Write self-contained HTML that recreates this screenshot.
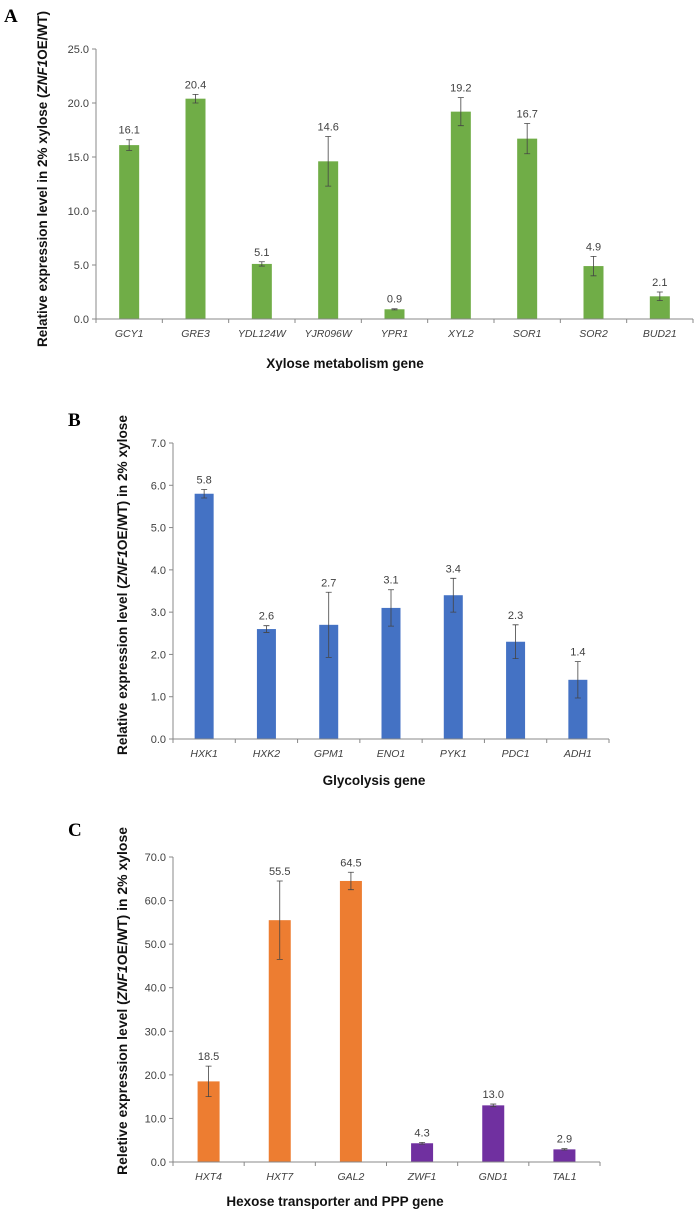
<!DOCTYPE html>
<html><head><meta charset="utf-8"><style>
html,body{margin:0;padding:0;background:#fff;}
svg{display:block;font-family:"Liberation Sans",sans-serif;}
</style></head><body>
<svg id="fig" width="696" height="1212" viewBox="0 0 696 1212" xmlns="http://www.w3.org/2000/svg">
<text x="4" y="22" font-family="Liberation Serif" font-weight="bold" font-size="19">A</text>
<text x="68" y="426" font-family="Liberation Serif" font-weight="bold" font-size="19">B</text>
<text x="68" y="836" font-family="Liberation Serif" font-weight="bold" font-size="19">C</text>
</svg>
<script>
const catsA=["GCY1","GRE3","YDL124W","YJR096W","YPR1","XYL2","SOR1","SOR2","BUD21"];
const valsA=[16.1,20.4,5.1,14.6,0.9,19.2,16.7,4.9,2.1];
const errsA=[0.5,0.4,0.2,2.3,0.05,1.3,1.4,0.9,0.4];
const ticksA=[0,5,10,15,20,25];
const catsB=["HXK1","HXK2","GPM1","ENO1","PYK1","PDC1","ADH1"];
const valsB=[5.8,2.6,2.7,3.1,3.4,2.3,1.4];
const errsB=[0.1,0.08,0.77,0.43,0.4,0.4,0.43];
const ticksB=[0,1,2,3,4,5,6,7];
const catsC=["HXT4","HXT7","GAL2","ZWF1","GND1","TAL1"];
const valsC=[18.5,55.5,64.5,4.3,13.0,2.9];
const errsC=[3.5,9.0,2.0,0.2,0.3,0.15];
const colorsC=["#ED7D31","#ED7D31","#ED7D31","#7030A0","#7030A0","#7030A0"];
const ticksC=[0,10,20,30,40,50,60,70];

const NS="http://www.w3.org/2000/svg";
const svg=document.getElementById('fig');
function mk(tag,attrs,parent){const e=document.createElementNS(NS,tag);for(const k in attrs)e.setAttribute(k,attrs[k]);(parent||svg).appendChild(e);return e;}

function panel(p,cats,vals,errs,ticks,colors){
  const g=mk('g',{});
  
  
  const ymax=ticks[ticks.length-1];
  const ys=v=>p.y0-(v/ymax)*(p.y0-p.y1);
  const step=(p.x1-p.x0)/cats.length;
  const xs=i=>p.x0+step*(i+0.5);
  ticks.forEach(t=>{
    const tl=mk('text',{x:p.x0-7,y:ys(t)+4,'text-anchor':'end','font-size':11,fill:'#404040'},g);
    tl.textContent=t.toFixed(1);
    
    
    const tk=mk('line',{x1:p.x0-4,x2:p.x0,y1:ys(t),y2:ys(t),stroke:'#888'},g);
    
    
  });
  const ya=mk('line',{x1:p.x0,x2:p.x0,y1:p.y1,y2:p.y0,stroke:'#888'},g);
  
  
  for(let i=0;i<=cats.length;i++){
    const x=p.x0+step*i;
    const tk=mk('line',{x1:x,x2:x,y1:p.y0,y2:p.y0+4,stroke:'#888'},g);
    
    
  }
  cats.forEach((c,i)=>{
    const v=vals[i],e=errs[i],x=xs(i);
    const col=Array.isArray(colors)?colors[i]:colors;
    const b=mk('rect',{x:x-p.bw/2,y:ys(v),width:p.bw,height:p.y0-ys(v),fill:col},g);
    
    
    const eb=mk('path',{d:`M${x},${ys(v+e)}V${ys(v-e)}M${x-3},${ys(v+e)}H${x+3}M${x-3},${ys(v-e)}H${x+3}`,stroke:'#444','stroke-width':0.8,fill:'none'},g);
    
    
    const vl=mk('text',{x:x,y:ys(v+e)-6,'text-anchor':'middle','font-size':11,fill:'#404040'},g);
    vl.textContent=v.toFixed(1);
    
    
    const cl=mk('text',{x:x,y:p.y0+18,'text-anchor':'middle','font-size':10.5,'font-style':'italic',fill:'#404040'},g);
    cl.textContent=c;
    
    
  });
  const xa=mk('line',{x1:p.x0,x2:p.x1,y1:p.y0,y2:p.y0,stroke:'#888'},g);
  
  
  const xt=mk('text',{x:p.xtx,y:p.xty,'text-anchor':'middle','font-size':13.5,'font-weight':'bold',fill:'#111'},g);
  xt.textContent=p.xtitle;
  
  
  const yt=mk('text',{x:0,y:0,'text-anchor':'middle','font-size':13.5,'font-weight':'bold',fill:'#111',transform:`translate(${p.ytx},${p.yty}) rotate(-90)`,textLength:p.ytl,lengthAdjust:'spacingAndGlyphs'},g);
  yt.innerHTML=p.ytitle;
  
  
}

panel({name:'panel-a-chart',x0:96,x1:693,y0:319,y1:49,bw:20,xtitle:'Xylose metabolism gene',xtx:345,xty:368,ytx:47,yty:179,ytl:336,
  ytitle:'Relative expression level in 2% xylose (<tspan font-style="italic">ZNF1</tspan>OE/WT)'},catsA,valsA,errsA,ticksA,'#70AD47');
panel({name:'panel-b-chart',x0:173,x1:609,y0:739,y1:443,bw:19,xtitle:'Glycolysis gene',xtx:374,xty:785,ytx:127,yty:585,ytl:340,
  ytitle:'Relative expression level (<tspan font-style="italic">ZNF1</tspan>OE/WT) in 2% xylose'},catsB,valsB,errsB,ticksB,'#4472C4');
panel({name:'panel-c-chart',x0:173,x1:600,y0:1162,y1:857,bw:22,xtitle:'Hexose transporter and PPP gene',xtx:335,xty:1206,ytx:127,yty:1001,ytl:348,
  ytitle:'Reletive expression level (<tspan font-style="italic">ZNF1</tspan>OE/WT) in 2% xylose'},catsC,valsC,errsC,ticksC,colorsC);
</script>
</body></html>
